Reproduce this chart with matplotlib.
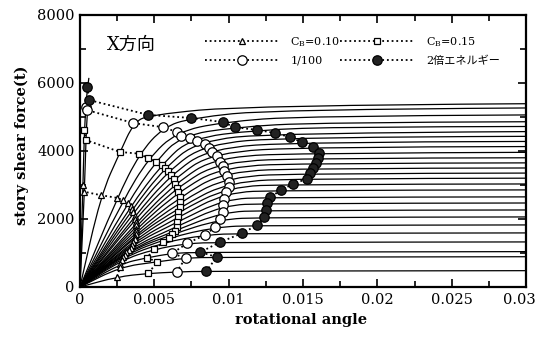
import matplotlib
matplotlib.use('Agg')
import matplotlib.pyplot as plt
import matplotlib.transforms as mtransforms
from matplotlib.lines import Line2D
from matplotlib.path import Path
from matplotlib.patches import PathPatch
from matplotlib.ticker import MultipleLocator, FuncFormatter
from matplotlib.font_manager import FontProperties

plt.rcParams['font.family'] = ['DejaVu Serif', 'Noto Sans CJK JP']
plt.rcParams['mathtext.fontset'] = 'dejavuserif'

# ---- data (one entry per story, stiff lower stories first) ----
# C_B = 0.10 points (triangles)
tri_x = [0.0002, 0.0003, 0.0014, 0.0025, 0.0029, 0.0032, 0.0034, 0.0035, 0.0036, 0.0037, 0.0037,
         0.0038, 0.0038, 0.0038, 0.0038, 0.0038, 0.0037, 0.0037, 0.0036, 0.0035, 0.0034, 0.0033,
         0.0031, 0.0030, 0.0029, 0.0028, 0.0027, 0.0027, 0.0025]
tri_y = [3000, 2800, 2700, 2620, 2550, 2470, 2380, 2290, 2200, 2100, 2000,
         1900, 1810, 1720, 1640, 1560, 1480, 1400, 1320, 1240, 1160, 1090,
         1020, 950, 870, 790, 680, 590, 300]
# C_B = 0.15 points (squares)
sq_x = [0.0003, 0.0004, 0.0027, 0.0040, 0.0046, 0.0051, 0.0055, 0.0057, 0.0059, 0.0061, 0.0063,
        0.0064, 0.0065, 0.0066, 0.0067, 0.0067, 0.0067, 0.0066, 0.0066, 0.0065, 0.0065, 0.0064,
        0.0062, 0.0060, 0.0056, 0.0050, 0.0045, 0.0052, 0.0046]
sq_y = [4620, 4320, 3970, 3920, 3780, 3690, 3600, 3500, 3400, 3290, 3170,
        3040, 2920, 2790, 2640, 2490, 2340, 2200, 2050, 1900, 1770, 1660,
        1550, 1450, 1310, 1110, 860, 740, 400]
# drift 1/100 points (open circles)
circ_x = [0.0004, 0.0005, 0.0036, 0.0056, 0.0065, 0.0068, 0.0074, 0.0079, 0.0084, 0.0087, 0.0089,
          0.0092, 0.0094, 0.0096, 0.0097, 0.0099, 0.0100, 0.0100, 0.0098, 0.0097, 0.0096, 0.0096,
          0.0094, 0.0091, 0.0084, 0.0072, 0.0062, 0.0071, 0.0065]
circ_y = [5300, 5200, 4820, 4700, 4560, 4450, 4370, 4290, 4200, 4080, 3960,
          3840, 3690, 3550, 3400, 3250, 3100, 2950, 2780, 2580, 2400, 2200,
          1990, 1760, 1530, 1280, 990, 850, 440]
# twice-energy points (filled circles)
fill_x = [0.0005, 0.0006, 0.0046, 0.0075, 0.0096, 0.0104, 0.0119, 0.0131, 0.0141, 0.0149, 0.0157,
          0.0161, 0.0160, 0.0159, 0.0157, 0.0155, 0.0153, 0.0143, 0.0135, 0.0128, 0.0126, 0.0125,
          0.0124, 0.0119, 0.0109, 0.0094, 0.0081, 0.0092, 0.0085]
fill_y = [5880, 5500, 5060, 4970, 4850, 4700, 4620, 4530, 4410, 4265, 4120,
          3940, 3790, 3640, 3490, 3340, 3190, 3020, 2845, 2640, 2460, 2255,
          2050, 1815, 1580, 1315, 1025, 880, 470]
# extra knee point on the upper curves (None where not needed)
knee_x = [None, None, 0.0114, 0.0130, 0.0150, 0.0160, 0.0180] + [None] * 22
knee_y = [None, None, 5340, 5220, 5030, 4840, 4710] + [None] * 22
# last point of each curve
end_x = [0.0006, 0.0007] + [0.03] * 27
end_y = [6150, 5560, 5390, 5265, 5060, 4860, 4720, 4570, 4430, 4280, 4130,
         3960, 3800, 3650, 3500, 3350, 3200, 3030, 2855, 2650, 2470, 2265,
         2060, 1825, 1590, 1325, 1040, 890, 480]

legend_labels = ['C$_{\\mathrm{B}}$=0.10', 'C$_{\\mathrm{B}}$=0.15', '1/100', '2倍エネルギー']
x_ticks = [0, 0.005, 0.01, 0.015, 0.02, 0.025, 0.03]
y_ticks = [0, 2000, 4000, 6000, 8000]

# ---- figure ----
fig = plt.figure(figsize=(5.4, 3.41), dpi=100)
ax = fig.add_axes([0.1481, 0.1584, 0.826, 0.7977])


def smooth_path(pts):
    """Quadratic-Bezier path using the knots as control points (drawn by matplotlib)."""
    verts = [pts[0], ((pts[0][0] + pts[1][0]) / 2, (pts[0][1] + pts[1][1]) / 2)]
    codes = [Path.MOVETO, Path.LINETO]
    n = len(pts)
    for k in range(1, n - 2):
        mid = ((pts[k][0] + pts[k + 1][0]) / 2, (pts[k][1] + pts[k + 1][1]) / 2)
        verts += [pts[k], mid]
        codes += [Path.CURVE3, Path.CURVE3]
    verts += [pts[n - 2], pts[n - 1]]
    codes += [Path.CURVE3, Path.CURVE3]
    return Path(verts, codes)


for i in range(len(end_x)):
    pts = [(0, 0), (tri_x[i], tri_y[i]), (sq_x[i], sq_y[i]), (circ_x[i], circ_y[i]),
           (fill_x[i], fill_y[i])]
    if knee_x[i] is not None:
        pts.append((knee_x[i], knee_y[i]))
    pts.append((end_x[i], end_y[i]))
    ax.add_patch(PathPatch(smooth_path(pts), fill=False, edgecolor='black', lw=0.9,
                           zorder=2, transform=ax.transData))

dot = (0, (1, 1.6))
chain_kw = dict(color='black', lw=1.3, ls=dot, mec='black', mew=0.9, zorder=4)
ax.plot(tri_x, tri_y, marker='^', ms=5, mfc='white', **chain_kw)
ax.plot(sq_x, sq_y, marker='s', ms=4.3, mfc='white', **chain_kw)
ax.plot(circ_x, circ_y, marker='o', ms=6.8, mfc='white', **chain_kw)
ax.plot(fill_x, fill_y, marker='o', ms=6.8, mfc='#222222', **chain_kw)

ax.set_xlim(0, 0.03)
ax.set_ylim(0, 8000)
ax.set_xticks(x_ticks)
ax.set_yticks(y_ticks)
ax.xaxis.set_minor_locator(MultipleLocator(0.0025))
ax.yaxis.set_minor_locator(MultipleLocator(1000))
ax.xaxis.set_major_formatter(FuncFormatter(lambda v, p: '%g' % round(v, 4)))
ax.tick_params(which='both', direction='in', top=True, right=True, labelsize=10.5, width=1.2, pad=4)
ax.tick_params(which='major', length=6)
ax.tick_params(which='minor', length=4)
for s in ax.spines.values():
    s.set_linewidth(1.6)

# keep the last x tick label inside the picture
fig.canvas.draw()
last = ax.get_xticklabels()[-1]
last.set_transform(last.get_transform() + mtransforms.ScaledTranslation(-7 / 100, 0, fig.dpi_scale_trans))

ax.set_xlabel('rotational angle', fontsize=10.5, fontweight='bold')
ax.set_ylabel('story shear force(t)', fontsize=10.5, fontweight='bold')
ax.xaxis.set_label_coords(0.496, -0.095)
ax.yaxis.set_label_coords(-0.115, 0.52)

ax.text(0.06, 0.89, 'X方向', transform=ax.transAxes, fontsize=13, va='center', ha='left',
        family=['DejaVu Serif', 'Noto Sans CJK JP'])

handles = [
    Line2D([], [], marker='^', ms=5, mfc='white', **chain_kw),
    Line2D([], [], marker='o', ms=6.8, mfc='white', **chain_kw),
    Line2D([], [], marker='s', ms=4.3, mfc='white', **chain_kw),
    Line2D([], [], marker='o', ms=6.8, mfc='#222222', **chain_kw),
]
labels = [legend_labels[0], legend_labels[2], legend_labels[1], legend_labels[3]]
leg = ax.legend(handles, labels, ncol=2, frameon=False, loc='upper left',
                bbox_to_anchor=(0.28, 0.925), borderpad=0, borderaxespad=0,
                handlelength=6.6, handletextpad=1.1, columnspacing=0.0, labelspacing=0.6,
                prop=FontProperties(family=['DejaVu Serif', 'Noto Sans CJK JP'], size=8))

fig.savefig('out.png', dpi=100)
